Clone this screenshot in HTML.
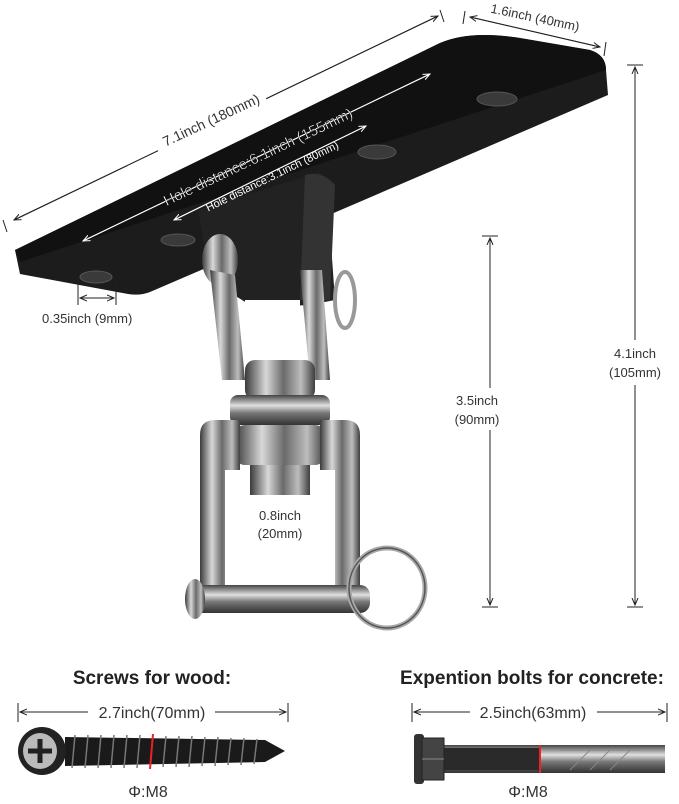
<!DOCTYPE html>
<html><head><meta charset="utf-8"><style>
html,body{margin:0;padding:0;background:#fff;}
svg{display:block;font-family:"Liberation Sans",sans-serif;}
</style></head><body>
<svg width="679" height="804" viewBox="0 0 679 804" xmlns="http://www.w3.org/2000/svg">
<defs>
<linearGradient id="steel" x1="0" x2="1" y1="0" y2="0">
<stop offset="0" stop-color="#3a3a3a"/><stop offset="0.3" stop-color="#d8d8d8"/><stop offset="0.55" stop-color="#6a6a6a"/><stop offset="0.8" stop-color="#bdbdbd"/><stop offset="1" stop-color="#3d3d3d"/>
</linearGradient>
<linearGradient id="steelv" x1="0" x2="0" y1="0" y2="1">
<stop offset="0" stop-color="#444"/><stop offset="0.35" stop-color="#e0e0e0"/><stop offset="0.6" stop-color="#777"/><stop offset="1" stop-color="#333"/>
</linearGradient>
<marker id="a" markerWidth="8" markerHeight="8" refX="7" refY="4" orient="auto"><path d="M0,1 L7,4 L0,7" fill="none" stroke="#222" stroke-width="1"/></marker>
<marker id="aw" markerWidth="8" markerHeight="8" refX="7" refY="4" orient="auto"><path d="M0,1 L7,4 L0,7" fill="none" stroke="#fff" stroke-width="1"/></marker>
</defs>

<!-- plate -->
<path d="M15,250 L440,43 Q470,30 520,38 L590,50 Q606,55 606,70 L608,95 L150,292 Q140,296 128,294 L20,274 Z" fill="#1c1c1c"/>
<path d="M15,250 L440,43 Q470,30 520,38 L590,50 Q606,55 606,70 L20,262 Z" fill="#111"/>
<g fill="#3a3a3a" stroke="#555" stroke-width="1">
<ellipse cx="497" cy="99" rx="20" ry="7"/><ellipse cx="377" cy="152" rx="19" ry="7"/><ellipse cx="178" cy="240" rx="17" ry="6"/><ellipse cx="96" cy="277" rx="16" ry="6"/>
</g>

<!-- bracket lug -->
<path d="M198,210 L320,172 Q335,185 330,230 L335,300 Q290,310 250,305 L210,280 Z" fill="#222"/>
<path d="M305,175 Q322,170 335,185 L330,300 L300,300 Z" fill="#333"/>
<!-- pin head -->
<ellipse cx="220" cy="260" rx="18" ry="26" fill="url(#steel)"/>
<!-- upper shackle -->
<path d="M210,270 L222,380 L245,380 L235,275 Z" fill="url(#steel)"/>
<path d="M300,270 L310,380 L330,380 L322,270 Z" fill="url(#steel)"/>
<rect x="245" y="300" width="55" height="30" fill="#fff"/>
<ellipse cx="345" cy="300" rx="10" ry="28" fill="none" stroke="#999" stroke-width="4"/>
<!-- swivel body -->
<rect x="245" y="360" width="70" height="40" rx="10" fill="url(#steel)"/>
<rect x="230" y="395" width="100" height="30" rx="8" fill="url(#steelv)"/>
<rect x="235" y="425" width="90" height="40" rx="10" fill="url(#steel)"/>
<rect x="250" y="465" width="60" height="30" fill="url(#steel)"/>
<!-- lower shackle -->
<path d="M200,435 Q200,420 215,420 L240,420 L240,470 L225,470 L225,600 L200,600 Z" fill="url(#steel)"/>
<path d="M320,420 L345,420 Q360,420 360,435 L360,600 L335,600 L335,470 L320,470 Z" fill="url(#steel)"/>
<rect x="190" y="585" width="180" height="28" rx="10" fill="url(#steelv)"/>
<ellipse cx="195" cy="599" rx="10" ry="20" fill="url(#steel)"/>
<ellipse cx="387" cy="588" rx="38" ry="40" fill="none" stroke="#aaa" stroke-width="5"/>
<ellipse cx="387" cy="588" rx="38" ry="40" fill="none" stroke="#555" stroke-width="1.5"/>

<!-- dims top -->
<line x1="14" y1="220" x2="438" y2="16" stroke="#222" stroke-width="1" marker-end="url(#a)"/>
<line x1="438" y1="16" x2="14" y2="220" stroke="#222" stroke-width="1" marker-end="url(#a)"/>
<line x1="3" y1="220" x2="7" y2="232" stroke="#222"/><line x1="440" y1="10" x2="444" y2="22" stroke="#222"/>
<rect x="150" y="110" width="120" height="18" fill="#fff" transform="rotate(-25 211 120)"/>
<text x="211" y="125" font-size="14" fill="#333" text-anchor="middle" transform="rotate(-25 211 120)">7.1inch (180mm)</text>
<line x1="470" y1="17" x2="600" y2="47" stroke="#222" marker-end="url(#a)"/>
<line x1="600" y1="47" x2="470" y2="17" stroke="#222" marker-end="url(#a)"/>
<line x1="465" y1="11" x2="463" y2="24" stroke="#222"/><line x1="606" y1="42" x2="604" y2="56" stroke="#222"/>
<text x="535" y="22" font-size="13" fill="#333" text-anchor="middle" transform="rotate(12 535 18)">1.6inch (40mm)</text>

<line x1="83" y1="241" x2="430" y2="74" stroke="#fff" stroke-width="1" marker-end="url(#aw)"/>
<line x1="430" y1="74" x2="83" y2="241" stroke="#fff" stroke-width="1" marker-end="url(#aw)"/>
<text x="258" y="162" font-size="15" fill="#fff" stroke="#000" stroke-width="0.4" text-anchor="middle" transform="rotate(-25.5 258 157)">Hole distance:6.1inch (155mm)</text>
<line x1="174" y1="220" x2="366" y2="126" stroke="#fff" stroke-width="1" marker-end="url(#aw)"/>
<line x1="366" y1="126" x2="174" y2="220" stroke="#fff" stroke-width="1" marker-end="url(#aw)"/>
<text x="272" y="180" font-size="11" fill="#fff" text-anchor="middle" transform="rotate(-26 272 176)">Hole distance:3.1inch (80mm)</text>

<line x1="78" y1="283" x2="78" y2="305" stroke="#222"/><line x1="116" y1="283" x2="116" y2="305" stroke="#222"/>
<line x1="80" y1="298" x2="114" y2="298" stroke="#222" marker-end="url(#a)"/><line x1="114" y1="298" x2="80" y2="298" stroke="#222" marker-end="url(#a)"/>
<text x="42" y="323" font-size="13" fill="#333">0.35inch (9mm)</text>

<!-- vertical dims -->
<line x1="627" y1="65" x2="643" y2="65" stroke="#222"/><line x1="627" y1="607" x2="643" y2="607" stroke="#222"/>
<line x1="635" y1="340" x2="635" y2="67" stroke="#222" marker-end="url(#a)"/>
<line x1="635" y1="385" x2="635" y2="605" stroke="#222" marker-end="url(#a)"/>
<text x="635" y="358" font-size="13" fill="#333" text-anchor="middle">4.1inch</text>
<text x="635" y="377" font-size="13" fill="#333" text-anchor="middle">(105mm)</text>
<line x1="482" y1="236" x2="498" y2="236" stroke="#222"/><line x1="482" y1="607" x2="498" y2="607" stroke="#222"/>
<line x1="490" y1="388" x2="490" y2="238" stroke="#222" marker-end="url(#a)"/>
<line x1="490" y1="430" x2="490" y2="605" stroke="#222" marker-end="url(#a)"/>
<text x="477" y="405" font-size="13" fill="#333" text-anchor="middle">3.5inch</text>
<text x="477" y="424" font-size="13" fill="#333" text-anchor="middle">(90mm)</text>
<text x="280" y="520" font-size="13" fill="#333" text-anchor="middle">0.8inch</text>
<text x="280" y="538" font-size="13" fill="#333" text-anchor="middle">(20mm)</text>

<!-- bottom -->
<text x="152" y="684" font-size="19" font-weight="bold" fill="#222" text-anchor="middle">Screws for wood:</text>
<text x="532" y="684" font-size="19" font-weight="bold" fill="#222" text-anchor="middle">Expention bolts for concrete:</text>
<line x1="18" y1="703" x2="18" y2="722" stroke="#222"/><line x1="288" y1="703" x2="288" y2="722" stroke="#222"/>
<line x1="88" y1="712" x2="20" y2="712" stroke="#222" marker-end="url(#a)"/><line x1="215" y1="712" x2="286" y2="712" stroke="#222" marker-end="url(#a)"/>
<text x="152" y="718" font-size="16" fill="#333" text-anchor="middle">2.7inch(70mm)</text>
<line x1="412" y1="703" x2="412" y2="722" stroke="#222"/><line x1="667" y1="703" x2="667" y2="722" stroke="#222"/>
<line x1="470" y1="712" x2="414" y2="712" stroke="#222" marker-end="url(#a)"/><line x1="597" y1="712" x2="665" y2="712" stroke="#222" marker-end="url(#a)"/>
<text x="533" y="718" font-size="16" fill="#333" text-anchor="middle">2.5inch(63mm)</text>

<!-- screw -->
<path d="M65,737 L265,740 L285,751 L265,762 L65,766 Z" fill="#1a1a1a"/>
<g stroke="#777" stroke-width="1.5">
<line x1="75" y1="735" x2="72" y2="768"/><line x1="88" y1="735" x2="85" y2="768"/><line x1="101" y1="735" x2="98" y2="768"/><line x1="114" y1="735" x2="111" y2="768"/><line x1="127" y1="735" x2="124" y2="768"/><line x1="140" y1="735" x2="137" y2="768"/><line x1="166" y1="736" x2="163" y2="767"/><line x1="179" y1="736" x2="176" y2="767"/><line x1="192" y1="736" x2="189" y2="767"/><line x1="205" y1="737" x2="202" y2="766"/><line x1="218" y1="737" x2="215" y2="766"/><line x1="231" y1="738" x2="228" y2="765"/><line x1="244" y1="738" x2="241" y2="765"/><line x1="257" y1="739" x2="254" y2="764"/>
</g>
<line x1="153" y1="734" x2="150" y2="769" stroke="#e22" stroke-width="2"/>
<ellipse cx="42" cy="751" rx="24" ry="24" fill="#222"/>
<ellipse cx="40" cy="751" rx="17" ry="18" fill="#bbb"/>
<path d="M28,751 L52,751 M40,739 L40,763" stroke="#222" stroke-width="5"/>
<text x="148" y="797" font-size="16" fill="#333" text-anchor="middle">Φ:M8</text>

<!-- bolt -->
<rect x="440" y="745" width="225" height="28" fill="url(#steelv)"/>
<rect x="440" y="748" width="100" height="22" fill="#2a2a2a"/>
<path d="M560,750 L640,750 M570,770 L590,750 M590,770 L610,750 M610,770 L630,750" stroke="#888" stroke-width="1"/>
<line x1="540" y1="745" x2="540" y2="773" stroke="#e22" stroke-width="2"/>
<rect x="414" y="734" width="10" height="50" rx="3" fill="#333"/>
<rect x="422" y="738" width="22" height="42" fill="#444" stroke="#222"/>
<line x1="422" y1="759" x2="444" y2="759" stroke="#888"/>
<text x="528" y="797" font-size="16" fill="#333" text-anchor="middle">Φ:M8</text>
</svg>
</body></html>
